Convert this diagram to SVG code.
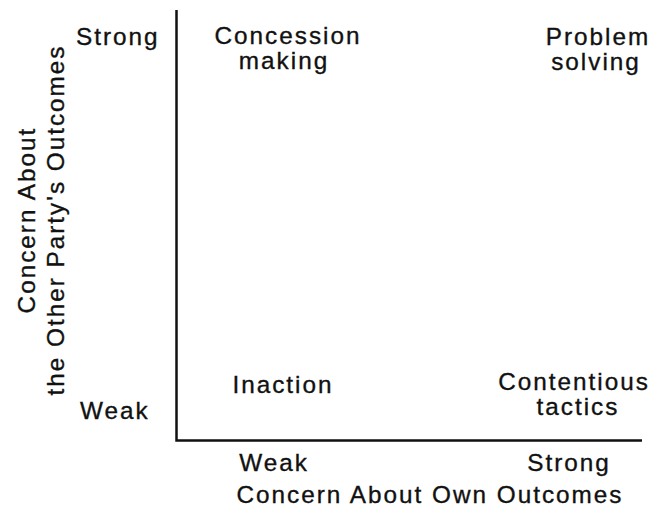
<svg xmlns="http://www.w3.org/2000/svg" width="660" height="513" viewBox="0 0 660 513">
<style>
text{font-family:"Liberation Sans",Arial,sans-serif;font-size:24.3px;fill:#111;stroke:#111;stroke-width:0.35;letter-spacing:2px}
.m{text-anchor:middle}
.axis{stroke:#111;stroke-width:2.5;fill:none}
</style>
<rect width="660" height="513" fill="#fff"/>
<g id="connectors">
<path class="axis" d="M176.5 10 V440.5 H642"/>
</g>
<g id="y-strong"><text x="76" y="45">Strong</text></g>
<g id="y-weak"><text x="80" y="419">Weak</text></g>
<g id="x-weak"><text class="m" x="274" y="471">Weak</text></g>
<g id="x-strong"><text class="m" x="569" y="471">Strong</text></g>
<g id="x-label"><text class="m" x="430" y="503">Concern About Own Outcomes</text></g>
<g id="y-label" transform="translate(0,220) rotate(-90)">
<text class="m" x="0" y="35">Concern About</text>
<text class="m" x="0" y="64">the Other Party's Outcomes</text>
</g>
<g id="concession"><text class="m" x="288" y="44">Concession</text><text class="m" x="284" y="69">making</text></g>
<g id="problem"><text class="m" x="598" y="45">Problem</text><text class="m" x="596" y="70">solving</text></g>
<g id="inaction"><text class="m" x="283" y="393">Inaction</text></g>
<g id="contentious"><text class="m" x="574" y="390">Contentious</text><text class="m" x="578" y="415">tactics</text></g>
</svg>
